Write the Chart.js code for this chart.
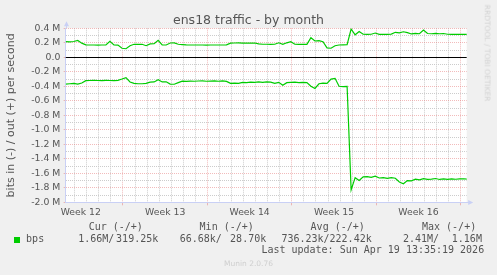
<!DOCTYPE html>
<html>
<head>
<meta charset="utf-8">
<title>ens18 traffic - by month</title>
<script src="https://cdn.jsdelivr.net/npm/chart.js@4.4.1/dist/chart.umd.min.js"></script>
<style>
  html, body { margin: 0; padding: 0; background: #f0f0f0; }
  #wrap { position: relative; width: 497px; height: 275px; overflow: hidden; }
  #wrap canvas { position: absolute; left: 0; top: 0; }
  .txt { position: absolute; white-space: pre; color: #555; line-height: 1; }
  .mono { font-family: "DejaVu Sans Mono", monospace; font-size: 10px; height: 10px; }
  .r1 { top: 222.2px; }
  .r2 { top: 234px; }
  .r3 { top: 245px; }
</style>
</head>
<body>
<div id="wrap">
  <canvas id="trafficChart" width="497" height="275"></canvas>

  <div class="txt" style="left:0; width:497px; text-align:center; top:13.7px; font-family:'DejaVu Sans'; font-size:12.5px;">ens18 traffic - by month</div>

  <div class="txt mono r1" style="left:88.7px;">Cur (-/+)</div>
  <div class="txt mono r1" style="left:199.6px;">Min (-/+)</div>
  <div class="txt mono r1" style="left:310.6px;">Avg (-/+)</div>
  <div class="txt mono r1" style="left:422px;">Max (-/+)</div>

  <div style="position:absolute; left:14px; top:237px; width:6px; height:6px; background:#00cc00;"></div>
  <div class="txt mono r2" style="left:26.1px;">bps</div>
  <div class="txt mono r2" style="left:78.2px;">1.66M/</div>
  <div class="txt mono r2" style="left:116.1px;">319.25k</div>
  <div class="txt mono r2" style="left:179.7px;">66.68k/</div>
  <div class="txt mono r2" style="left:230.1px;">28.70k</div>
  <div class="txt mono r2" style="left:281.4px;">736.23k/222.42k</div>
  <div class="txt mono r2" style="left:403px;">2.41M/</div>
  <div class="txt mono r2" style="left:451.8px;">1.16M</div>

  <div class="txt mono r3" style="left:261.4px;">Last update: Sun Apr 19 13:35:19 2026</div>

  <div class="txt" style="left:0; width:497px; text-align:center; top:260.2px; font-family:'DejaVu Sans'; font-size:7.5px; color:#cfcfcf;">Munin 2.0.76</div>
  <div class="txt" style="left:487.3px; top:53.3px; font-family:'DejaVu Sans'; font-size:7.5px; color:#d2d2d2; transform:translate(-50%,-50%) rotate(90deg);">RRDTOOL / TOBI OETIKER</div>
</div>

<script>
// time axis in days from the left edge of the graph, one sample every 8 hours
const sampleStep = 1 / 3;
const xMax = 33.25;

const weekLabels = ["Week 12", "Week 13", "Week 14", "Week 15", "Week 16"];
const weekMid = [1.25, 8.25, 15.25, 22.25, 29.25];
const weekStart = [4.75, 11.75, 18.75, 25.75, 32.75];

// out (+), Mbit/s
const outBps = [
  0.215, 0.212, 0.218, 0.232, 0.195, 0.172, 0.170, 0.170, 0.168, 0.170,
  0.170, 0.222, 0.172, 0.168, 0.125, 0.118, 0.160, 0.180, 0.178, 0.180,
  0.160, 0.185, 0.187, 0.235, 0.172, 0.170, 0.197, 0.198, 0.180, 0.176,
  0.172, 0.170, 0.170, 0.170, 0.170, 0.168, 0.170, 0.170, 0.170, 0.170,
  0.172, 0.195, 0.197, 0.198, 0.195, 0.197, 0.195, 0.197, 0.185, 0.180,
  0.180, 0.178, 0.180, 0.200, 0.180, 0.200, 0.215, 0.180, 0.178, 0.180,
  0.178, 0.270, 0.225, 0.230, 0.215, 0.130, 0.125, 0.160, 0.170, 0.172,
  0.175, 0.390, 0.310, 0.355, 0.318, 0.316, 0.318, 0.335, 0.317, 0.318,
  0.316, 0.320, 0.345, 0.338, 0.352, 0.340, 0.322, 0.330, 0.325, 0.375,
  0.328, 0.325, 0.330, 0.325, 0.328, 0.318, 0.317, 0.317, 0.317, 0.317,
  0.317
];

// in (-), Mbit/s, drawn negative
const inBps = [
  -0.370, -0.365, -0.360, -0.370, -0.355, -0.322, -0.320, -0.318, -0.320, -0.322,
  -0.318, -0.320, -0.322, -0.318, -0.300, -0.280, -0.340, -0.360, -0.365, -0.365,
  -0.360, -0.342, -0.340, -0.310, -0.340, -0.338, -0.370, -0.372, -0.350, -0.330,
  -0.332, -0.328, -0.330, -0.327, -0.325, -0.330, -0.328, -0.326, -0.330, -0.325,
  -0.332, -0.360, -0.355, -0.360, -0.345, -0.350, -0.342, -0.345, -0.340, -0.345,
  -0.338, -0.342, -0.360, -0.345, -0.385, -0.350, -0.345, -0.342, -0.348, -0.345,
  -0.350, -0.400, -0.430, -0.365, -0.355, -0.360, -0.300, -0.290, -0.400, -0.405,
  -0.400, -1.830, -1.660, -1.700, -1.648, -1.645, -1.655, -1.640, -1.665, -1.660,
  -1.670, -1.660, -1.668, -1.720, -1.745, -1.700, -1.705, -1.680, -1.690, -1.675,
  -1.685, -1.680, -1.672, -1.685, -1.678, -1.683, -1.676, -1.682, -1.678, -1.675,
  -1.680
];

const lineColor = "#00cc00";
const majorGrid = "rgba(230, 120, 120, 0.5)";
const minorGrid = "#cccccc";
const axisColor = "#c9d0f5";
const textColor = "#555";

const near = (a, b) => Math.abs(a - b) < 1e-6;

const plotDecor = {
  id: "plotDecor",
  beforeDraw(chart) {
    const { ctx, chartArea: a } = chart;
    ctx.save();
    ctx.fillStyle = "#ffffff";
    ctx.fillRect(a.left, a.top, a.right - a.left, a.bottom - a.top);
    ctx.restore();
  },
  beforeDatasetsDraw(chart) {
    const { ctx, chartArea: a, scales } = chart;
    const y0 = Math.round(scales.y.getPixelForValue(0)) + 0.5;
    ctx.save();
    ctx.strokeStyle = "#000";
    ctx.lineWidth = 1;
    ctx.beginPath();
    ctx.moveTo(a.left, y0);
    ctx.lineTo(a.right, y0);
    ctx.stroke();
    ctx.restore();
  },
  afterDraw(chart) {
    const { ctx, chartArea: a } = chart;
    const lx = Math.round(a.left) + 0.5;
    const by = Math.round(a.bottom) + 0.5;
    ctx.save();
    ctx.strokeStyle = axisColor;
    ctx.fillStyle = axisColor;
    ctx.lineWidth = 1;
    ctx.beginPath();
    ctx.moveTo(lx, a.top);
    ctx.lineTo(lx, a.top - 3);
    ctx.moveTo(a.right, by);
    ctx.lineTo(a.right + 3, by);
    ctx.stroke();
    ctx.beginPath();
    ctx.moveTo(lx - 2.5, a.top - 2);
    ctx.lineTo(lx + 2.5, a.top - 2);
    ctx.lineTo(lx, a.top - 7);
    ctx.closePath();
    ctx.moveTo(a.right + 1.5, by - 2.5);
    ctx.lineTo(a.right + 1.5, by + 2.5);
    ctx.lineTo(a.right + 6.5, by);
    ctx.closePath();
    ctx.fill();
    ctx.restore();
  }
};

new Chart(document.getElementById("trafficChart"), {
  type: "line",
  data: {
    datasets: [
      {
        label: "out",
        data: outBps.map((v, i) => ({ x: i * sampleStep, y: v })),
        borderColor: lineColor,
        borderWidth: 1.2,
        pointRadius: 0,
        tension: 0
      },
      {
        label: "in",
        data: inBps.map((v, i) => ({ x: i * sampleStep, y: v })),
        borderColor: lineColor,
        borderWidth: 1.2,
        pointRadius: 0,
        tension: 0
      }
    ]
  },
  options: {
    responsive: false,
    animation: false,
    events: [],
    layout: { padding: { left: 0, right: 30.3, top: 28.3, bottom: 52.7 } },
    plugins: {
      legend: { display: false },
      tooltip: { enabled: false },
      title: { display: false }
    },
    scales: {
      x: {
        type: "linear",
        min: 0,
        max: xMax,
        afterBuildTicks(scale) {
          const t = [];
          for (let k = 0; k <= 32; k++) t.push({ value: 0.75 + k });
          weekMid.forEach(v => t.push({ value: v }));
          t.sort((a, b) => a.value - b.value);
          scale.ticks = t;
        },
        afterFit(scale) { scale.height = 20; },
        ticks: {
          autoSkip: false,
          maxRotation: 0,
          padding: 1.6,
          color: textColor,
          font: { family: "DejaVu Sans", size: 9.3 },
          callback(value) {
            const i = weekMid.findIndex(m => near(m, value));
            return i >= 0 ? weekLabels[i] : "";
          }
        },
        grid: {
          drawTicks: true,
          tickLength: 3,
          color(ctx) {
            const v = ctx.tick.value;
            if (weekMid.some(m => near(m, v))) return "rgba(0,0,0,0)";
            if (weekStart.some(m => near(m, v))) return majorGrid;
            return minorGrid;
          },
          tickColor(ctx) {
            const v = ctx.tick.value;
            return weekStart.some(m => near(m, v)) ? majorGrid : "rgba(0,0,0,0)";
          }
        },
        border: { display: true, color: axisColor, width: 1, dash: [1, 1] }
      },
      y: {
        min: -2.0,
        max: 0.4,
        afterBuildTicks(scale) {
          const t = [];
          for (let k = -20; k <= 4; k++) t.push({ value: k / 10 });
          scale.ticks = t;
        },
        afterFit(scale) { scale.width = 65.7; },
        ticks: {
          autoSkip: false,
          padding: 3.4,
          color: textColor,
          font: { family: "DejaVu Sans", size: 9.3 },
          callback(value) {
            const k = Math.round(value * 10);
            if (k % 2 !== 0) return "";
            return k === 0 ? "0.0" : (k / 10).toFixed(1) + " M";
          }
        },
        grid: {
          drawTicks: true,
          tickLength: 2,
          color(ctx) {
            const k = Math.round(ctx.tick.value * 10);
            if (k === 0) return "rgba(0,0,0,0)";
            return k % 2 === 0 ? majorGrid : minorGrid;
          },
          tickColor(ctx) {
            const k = Math.round(ctx.tick.value * 10);
            return k % 2 === 0 ? majorGrid : "rgba(0,0,0,0)";
          }
        },
        border: { display: true, color: axisColor, width: 1, dash: [1, 1] },
        title: {
          display: true,
          text: "bits in (-) / out (+) per second",
          color: textColor,
          font: { family: "DejaVu Sans", size: 11 },
          padding: { top: 4.4, bottom: 0 }
        }
      }
    }
  },
  plugins: [plotDecor]
});
</script>
</body>
</html>
